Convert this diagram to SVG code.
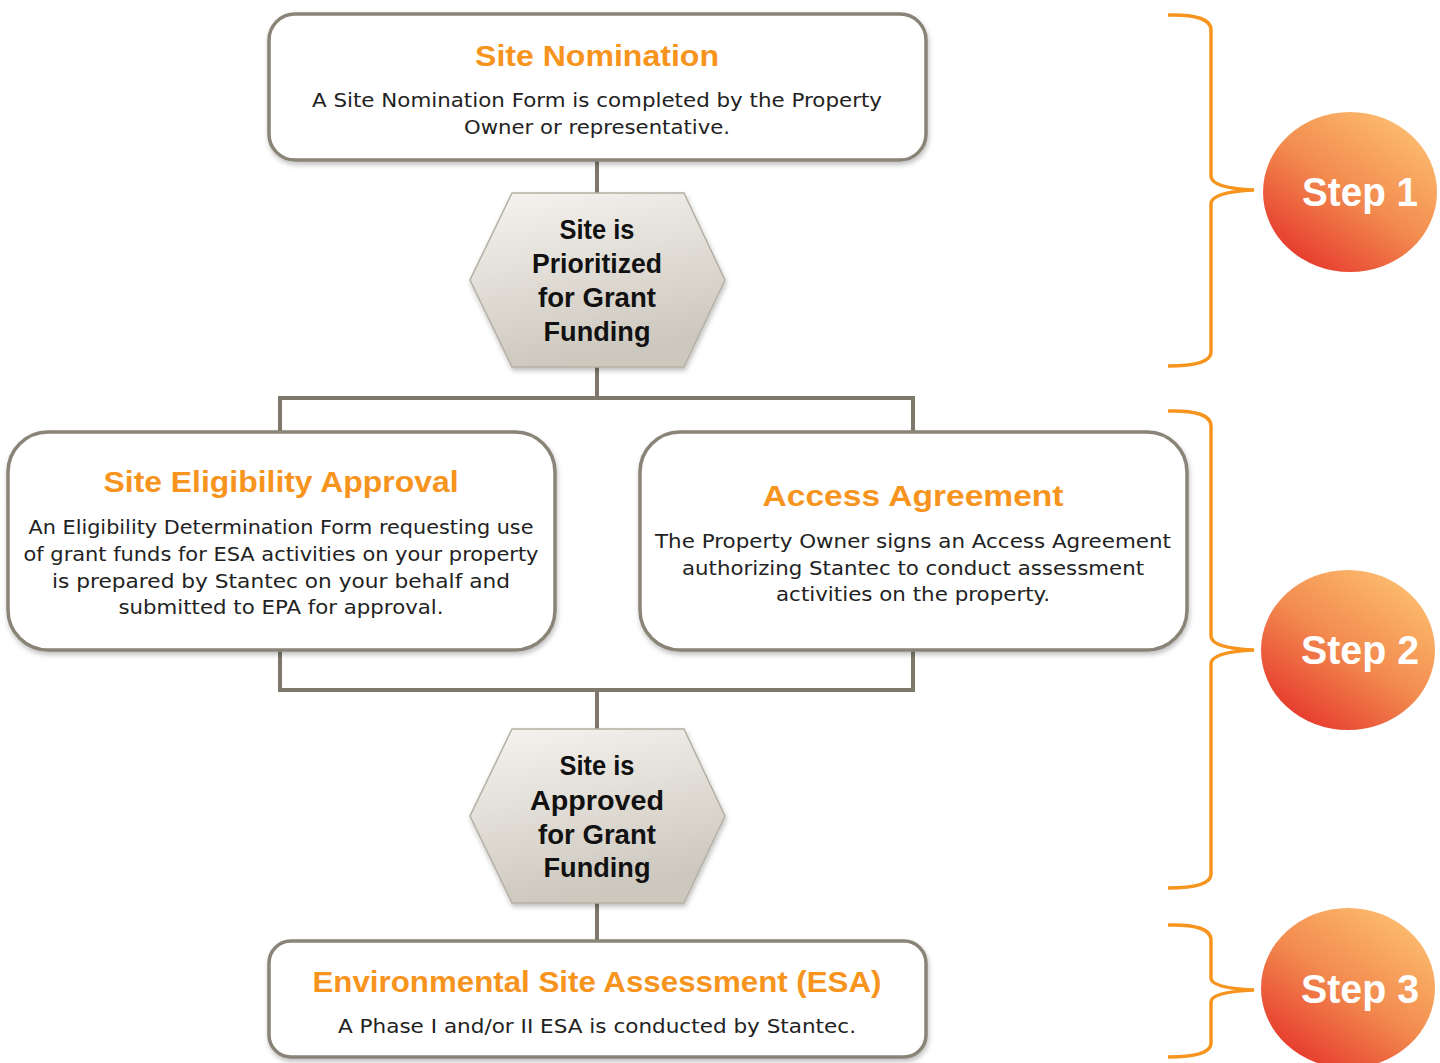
<svg xmlns="http://www.w3.org/2000/svg" width="1440" height="1063" viewBox="0 0 1440 1063">
<defs>
<linearGradient id="hexg" x1="0" y1="0" x2="0.3" y2="1">
<stop offset="0" stop-color="#f6f4f0"/>
<stop offset="1" stop-color="#cdc8be"/>
</linearGradient>
<linearGradient id="stepg" x1="0.85" y1="0.1" x2="0.2" y2="0.95">
<stop offset="0" stop-color="#fcbb6e"/>
<stop offset="0.5" stop-color="#f28a4e"/>
<stop offset="1" stop-color="#e6392d"/>
</linearGradient>
<filter id="sh" x="-10%" y="-10%" width="120%" height="130%">
<feDropShadow dx="1" dy="3" stdDeviation="2.5" flood-color="#000" flood-opacity="0.25"/>
</filter>
</defs>
<style>
.box{fill:#fff;stroke:#8a8478;stroke-width:3.5}
.hex{fill:url(#hexg);stroke:#b5afa3;stroke-width:1.5}
.conn{fill:none;stroke:#7e786c;stroke-width:4}
.br{fill:none;stroke:#f7941d;stroke-width:3.5}
.step{fill:url(#stepg)}
.title{font-family:"Liberation Sans",Arial,sans-serif;font-weight:bold;fill:#f7941d;text-anchor:middle}
.body{font-family:"DejaVu Sans","Liberation Sans",sans-serif;font-size:19px;fill:#222;text-anchor:middle}
.hext{font-family:"Liberation Sans",Arial,sans-serif;font-weight:bold;font-size:27px;fill:#111;text-anchor:middle}
.stept{font-family:"Liberation Sans",Arial,sans-serif;font-weight:bold;font-size:40px;fill:#fff;text-anchor:middle}
</style>
<rect width="1440" height="1063" fill="#fff"/>
<g id="connectors">
<path class="conn" d="M597,160 V193 M597,367 V398 M280,434 V398 H913 V434 M280,650 V690 H913 V650 M597,690 V729 M597,903 V941"/>
</g>
<g id="site-nomination">
<rect class="box" x="269" y="14" width="657" height="146" rx="26" filter="url(#sh)"/>
<text class="title" x="597" y="66" font-size="30" textLength="244" lengthAdjust="spacingAndGlyphs">Site Nomination</text>
<text class="body" x="597" y="107" textLength="570" lengthAdjust="spacingAndGlyphs">A Site Nomination Form is completed by the Property</text>
<text class="body" x="597" y="134" textLength="266" lengthAdjust="spacingAndGlyphs">Owner or representative.</text>
</g>
<g id="prioritized">
<polygon class="hex" points="512,193 684,193 725,280 684,367 512,367 470,280" filter="url(#sh)"/>
<text class="hext" x="597" y="239" textLength="75" lengthAdjust="spacingAndGlyphs">Site is</text>
<text class="hext" x="597" y="273" textLength="130" lengthAdjust="spacingAndGlyphs">Prioritized</text>
<text class="hext" x="597" y="307" textLength="118" lengthAdjust="spacingAndGlyphs">for Grant</text>
<text class="hext" x="597" y="341" textLength="107" lengthAdjust="spacingAndGlyphs">Funding</text>
</g>
<g id="eligibility">
<rect class="box" x="8" y="432" width="547" height="218" rx="40" filter="url(#sh)"/>
<text class="title" x="281" y="492" font-size="30" textLength="355" lengthAdjust="spacingAndGlyphs">Site Eligibility Approval</text>
<text class="body" x="281" y="534" textLength="505" lengthAdjust="spacingAndGlyphs">An Eligibility  Determination Form requesting use</text>
<text class="body" x="281" y="561" textLength="515" lengthAdjust="spacingAndGlyphs">of grant funds for ESA activities on your property</text>
<text class="body" x="281" y="588" textLength="458" lengthAdjust="spacingAndGlyphs">is prepared by Stantec on your behalf and</text>
<text class="body" x="281" y="614" textLength="325" lengthAdjust="spacingAndGlyphs">submitted to EPA for approval.</text>
</g>
<g id="access">
<rect class="box" x="640" y="432" width="547" height="218" rx="40" filter="url(#sh)"/>
<text class="title" x="913" y="506" font-size="30" textLength="301" lengthAdjust="spacingAndGlyphs">Access Agreement</text>
<text class="body" x="913" y="548" textLength="516" lengthAdjust="spacingAndGlyphs">The Property Owner signs an Access Agreement</text>
<text class="body" x="913" y="575" textLength="462" lengthAdjust="spacingAndGlyphs">authorizing Stantec to conduct assessment</text>
<text class="body" x="913" y="601" textLength="274" lengthAdjust="spacingAndGlyphs">activities on the property.</text>
</g>
<g id="approved">
<polygon class="hex" points="512,729 684,729 725,816 684,903 512,903 470,816" filter="url(#sh)"/>
<text class="hext" x="597" y="775" textLength="75" lengthAdjust="spacingAndGlyphs">Site is</text>
<text class="hext" x="597" y="810" textLength="134" lengthAdjust="spacingAndGlyphs">Approved</text>
<text class="hext" x="597" y="844" textLength="118" lengthAdjust="spacingAndGlyphs">for Grant</text>
<text class="hext" x="597" y="877" textLength="107" lengthAdjust="spacingAndGlyphs">Funding</text>
</g>
<g id="esa">
<rect class="box" x="269" y="941" width="657" height="116" rx="22" filter="url(#sh)"/>
<text class="title" x="597" y="992" font-size="30" textLength="569" lengthAdjust="spacingAndGlyphs">Environmental Site Assessment (ESA)</text>
<text class="body" x="597" y="1033" textLength="518" lengthAdjust="spacingAndGlyphs">A Phase I and/or II ESA is conducted by Stantec.</text>
</g>
<g id="step1">
<path class="br" d="M1168,15 Q1211,14 1211,30 V176 Q1211,188 1254,190 Q1211,192 1211,204 V352 Q1211,366 1168,366"/>
<ellipse class="step" cx="1350" cy="192" rx="87" ry="80"/>
<text class="stept" x="1360" y="206" textLength="116" lengthAdjust="spacingAndGlyphs">Step 1</text>
</g>
<g id="step2">
<path class="br" d="M1168,411 Q1211,410 1211,426 V636 Q1211,648 1254,650 Q1211,652 1211,664 V874 Q1211,888 1168,888"/>
<ellipse class="step" cx="1348" cy="650" rx="87" ry="80"/>
<text class="stept" x="1360" y="664" textLength="118" lengthAdjust="spacingAndGlyphs">Step 2</text>
</g>
<g id="step3">
<path class="br" d="M1168,925 Q1211,924 1211,940 V978 Q1211,988 1254,990 Q1211,992 1211,1002 V1043 Q1211,1057 1168,1057"/>
<ellipse class="step" cx="1348" cy="988" rx="87" ry="80"/>
<text class="stept" x="1360" y="1003" textLength="118" lengthAdjust="spacingAndGlyphs">Step 3</text>
</g>
</svg>
